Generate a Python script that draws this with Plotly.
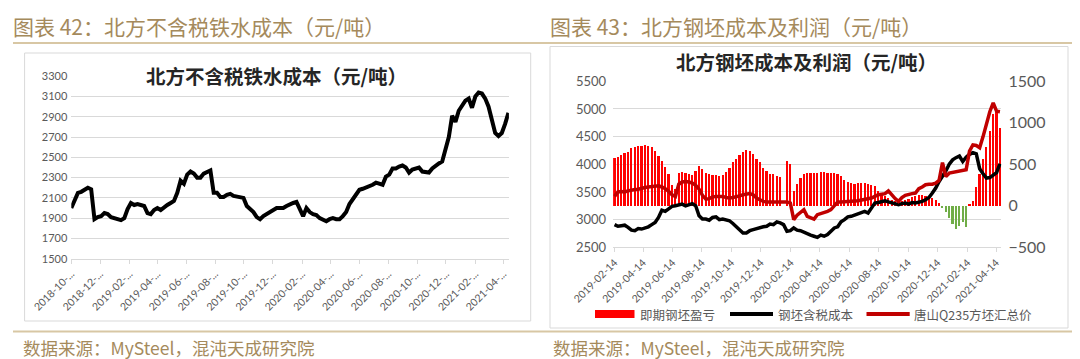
import plotly.graph_objects as go
import pandas as pd

# ---------------- data: left chart (weekly) ----------------
iron_start = "2018-10-08"
iron_cost = [
    2000, 2070, 2150, 2160, 2185, 2200, 2185, 1890, 1910, 1920,
    1950, 1940, 1910, 1900, 1880, 1880, 1900, 1990, 2050, 2030,
    2040, 2030, 2020, 1950, 1940, 1980, 2000, 1980, 2010, 2030,
    2050, 2070, 2150, 2270, 2240, 2330, 2360, 2340, 2300, 2300,
    2340, 2360, 2370, 2150, 2150, 2110, 2110, 2130, 2140, 2120,
    2110, 2110, 2100, 2020, 1990, 1960, 1910, 1890, 1920, 1940,
    1960, 1980, 2000, 2000, 2000, 2020, 2040, 2050, 2060, 1980,
    1920, 2000, 1960, 1940, 1930, 1900, 1880, 1870, 1890, 1900,
    1890, 1890, 1920, 1960, 2040, 2090, 2140, 2180, 2190, 2200,
    2210, 2230, 2250, 2240, 2230, 2310, 2330, 2390, 2390, 2410,
    2420, 2400, 2350, 2380, 2390, 2400, 2360, 2350, 2350, 2390,
    2420, 2440, 2460, 2600, 2700, 2910, 2850, 2960, 3020, 3060,
    3080, 2990, 3100, 3140, 3130, 3080, 3000, 2880, 2740, 2710,
    2740, 2830, 2940,
]
iron_tick_months = 16

# ---------------- data: right chart (weekly) ----------------
steel_start = "2019-02-14"
billet_profit = [
    574, 590, 614, 630, 640, 690, 700, 715, 720, 725,
    715, 700, 660, 600, 540, 460, 380, 250, 200, 390,
    400, 390, 380, 370, 420, 470, 440, 390, 380, 370,
    365, 360, 370, 400, 450, 520, 560, 610, 650, 665,
    655, 620, 560, 520, 450, 410, 380, 375, 360, 340,
    0, 540, 500, 180, 260, 330, 380, 390, 395, 390,
    395, 400, 400, 395, 390, 390, 375, 350, 310, 280,
    270, 265, 270, 275, 270, 265, 250, 230, 170, 140,
    110, 90, 70, 60, 55, 60, 70, 80, 100, 120,
    130, 130, 120, 100, 90, 70, 30, -30, -80, -150,
    -220, -280, -250, -200, -260, 10, 60, 220, 380, 560,
    700, 900, 1100, 1150, 930,
]
billet_cost = [
    2910, 2880, 2890, 2900, 2860, 2810, 2800, 2840, 2830, 2850,
    2870, 2910, 2950, 3040, 3170, 3150, 3200, 3240, 3250, 3260,
    3280, 3250, 3270, 3290, 3250, 3070, 3010, 3010, 2990, 3040,
    3050, 3000, 3010, 3000, 2980, 2930, 2870, 2810, 2760, 2760,
    2800, 2820, 2840, 2860, 2870, 2880, 2920, 2910, 2960, 2940,
    2910, 2790, 2800, 2850, 2810, 2800, 2770, 2750, 2720, 2700,
    2680, 2720, 2700, 2730, 2780, 2850, 2870, 2960, 3000, 3050,
    3060, 3080, 3100, 3130, 3150, 3120, 3200, 3300, 3310, 3320,
    3340, 3320, 3300, 3280, 3270, 3290, 3300, 3280, 3310, 3300,
    3310, 3330, 3360, 3400, 3480, 3570, 3690, 3780, 3880, 4000,
    4080, 4120, 4150, 4050, 4130, 4180, 4210, 4190, 3920, 3830,
    3750, 3760, 3800, 3850, 4010,
]
billet_price = [
    3420, 3500, 3510, 3500, 3520, 3540, 3545, 3550, 3570, 3580,
    3590, 3600, 3600, 3610, 3590, 3560, 3510, 3450, 3420, 3640,
    3680, 3690, 3680, 3660, 3620, 3550, 3440, 3370, 3380, 3410,
    3420, 3425, 3420, 3400, 3390, 3400, 3410, 3430, 3450, 3460,
    3470, 3450, 3390, 3360, 3330, 3320, 3320, 3320, 3320, 3320,
    3320, 3320, 3300, 3000, 3080, 3130, 3180, 3060, 3040, 3010,
    3090, 3110, 3120, 3150, 3180, 3260, 3320, 3320, 3320, 3330,
    3330, 3335, 3340, 3350, 3360, 3370, 3390, 3420, 3450, 3460,
    3470, 3520, 3440, 3380, 3330, 3400, 3440, 3460, 3470, 3480,
    3560, 3590, 3630, 3640, 3640, 3660, 3710, 4030, 3780, 3840,
    3850, 3860, 3870, 3880, 3900, 4240, 4350, 4340, 4300, 4500,
    4720, 4950, 5110, 4960, 4950,
]
steel_tick_count = 14

legend_names = ["即期钢坯盈亏", "钢坯含税成本", "唐山Q235方坯汇总价"]
header_left = "图表 42：北方不含税铁水成本（元/吨）"
header_right = "图表 43：北方钢坯成本及利润（元/吨）"
title_left = "北方不含税铁水成本（元/吨）"
title_right = "北方钢坯成本及利润（元/吨）"
source_text = "数据来源：MySteel，混沌天成研究院"

# ---------------- derived ----------------
W, H = 1080, 359
def px(x):
    return x / W
def py(y):
    return 1 - y / H

iron_dates = pd.date_range(iron_start, periods=len(iron_cost), freq="7D")
iron_ticks = [pd.Timestamp(iron_start) + pd.DateOffset(months=2 * k) for k in range(iron_tick_months)]
iron_ticktext = [d.strftime("%Y-%m") + "-..." for d in iron_ticks]

steel_dates = pd.date_range(steel_start, periods=len(billet_profit), freq="7D")
steel_ticks = [pd.Timestamp(steel_start) + pd.DateOffset(months=2 * k) for k in range(steel_tick_count)]
steel_ticktext = [d.strftime("%Y-%m-%d") for d in steel_ticks]

GRID = "#d9d9d9"
TICK = "#595959"
GOLD = "#a58a5c"
LINEGOLD = "#d8c7a4"
CJK = "Noto Sans CJK SC"
LAT = "Lato, Noto Sans CJK SC"

fig = go.Figure()

# left chart line
fig.add_trace(go.Scatter(
    x=iron_dates, y=iron_cost, mode="lines",
    line=dict(color="black", width=4), xaxis="x", yaxis="y",
    showlegend=False, hoverinfo="skip"))

# right chart: bars on y2 (right side), lines on y3 (left side, overlay)
bar_colors = ["#ff0000" if v >= 0 else "#70ad47" for v in billet_profit]
fig.add_trace(go.Bar(
    x=steel_dates, y=billet_profit, marker=dict(color=bar_colors, line=dict(width=0)),
    width=4.6 * 86400000, xaxis="x2", yaxis="y2", showlegend=False,
    name=legend_names[0]))
fig.add_trace(go.Scatter(
    x=steel_dates, y=billet_cost, mode="lines",
    line=dict(color="black", width=3.5), xaxis="x2", yaxis="y3",
    showlegend=False, name=legend_names[1]))
fig.add_trace(go.Scatter(
    x=steel_dates, y=billet_price, mode="lines",
    line=dict(color="#c00000", width=3.5), xaxis="x2", yaxis="y3",
    showlegend=False, name=legend_names[2]))

xcommon = dict(type="date", showgrid=False, showline=True, linecolor=GRID,
               ticks="outside", ticklen=4, tickcolor=GRID, tickangle=-45,
               zeroline=False, automargin=False)

fig.update_layout(
    width=W, height=H, autosize=False,
    margin=dict(l=0, r=0, t=0, b=0, pad=0),
    paper_bgcolor="white", plot_bgcolor="white",
    bargap=0,
    xaxis=dict(domain=[px(63.3), px(500.9)], anchor="y",
               range=[iron_dates[0], iron_dates[-1] + pd.Timedelta(days=1)],
               tickvals=iron_ticks, ticktext=iron_ticktext,
               tickfont=dict(family=LAT, size=10.5, color=TICK), **xcommon),
    yaxis=dict(domain=[py(250.7), py(68.3)], anchor="x", range=[1500, 3300],
               tick0=1500, dtick=200, showgrid=True, gridcolor=GRID, gridwidth=1,
               zeroline=False, showline=False, ticks="", automargin=False,
               ticklabelstandoff=3,
               tickfont=dict(family=LAT, size=11, color=TICK)),
    xaxis2=dict(domain=[px(605.1), px(993.4)], anchor="y2",
                range=[steel_dates[0] - pd.Timedelta(days=3), steel_dates[-1] + pd.Timedelta(days=3)],
                tickvals=steel_ticks, ticktext=steel_ticktext,
                tickfont=dict(family=LAT, size=10.5, color=TICK), **xcommon),
    yaxis2=dict(domain=[py(239.3), py(73.3)], anchor="x2", side="right",
                range=[-500, 1500], tick0=-500, dtick=500, showgrid=False,
                zeroline=False, showline=False, ticks="", automargin=False,
                ticklabelstandoff=6,
                tickfont=dict(family=LAT, size=16, color=TICK)),
    yaxis3=dict(overlaying="y2", anchor="x2", side="left",
                range=[2500, 5500], tick0=2500, dtick=500, showgrid=True,
                gridcolor=GRID, gridwidth=1, zeroline=False, showline=False, ticks="",
                automargin=False, ticklabelstandoff=6,
                tickfont=dict(family=LAT, size=13, color=TICK)),
)

shapes = []
# frames of the two charts
shapes.append(dict(type="rect", xref="paper", yref="paper",
                   x0=px(16.6), x1=px(522.7), y0=py(313), y1=py(45),
                   line=dict(color=GRID, width=1), layer="below"))
shapes.append(dict(type="rect", xref="paper", yref="paper",
                   x0=px(542), x1=px(1060), y0=py(320), y1=py(38.5),
                   line=dict(color=GRID, width=1), layer="below"))
# header and footer rules
shapes.append(dict(type="line", xref="paper", yref="paper",
                   x0=px(5), x1=px(1072), y0=py(35), y1=py(35),
                   line=dict(color=LINEGOLD, width=2)))
shapes.append(dict(type="line", xref="paper", yref="paper",
                   x0=px(5), x1=px(1072), y0=py(323.5), y1=py(323.5),
                   line=dict(color=LINEGOLD, width=2)))
# legend glyphs (right chart)
shapes.append(dict(type="rect", xref="paper", yref="paper",
                   x0=px(587), x1=px(626.5), y0=py(310), y1=py(302),
                   fillcolor="#ff0000", line=dict(width=0)))
shapes.append(dict(type="line", xref="paper", yref="paper",
                   x0=px(722), x1=px(765), y0=py(306), y1=py(306),
                   line=dict(color="black", width=4)))
shapes.append(dict(type="line", xref="paper", yref="paper",
                   x0=px(858.5), x1=px(901.7), y0=py(306), y1=py(306),
                   line=dict(color="#c00000", width=4)))

annotations = []
def ann(text, x, y, size, color, family=CJK, xanchor="left"):
    annotations.append(dict(text=text, x=px(x), y=py(y), xref="paper", yref="paper",
                            xanchor=xanchor, yanchor="middle", showarrow=False,
                            borderpad=0,
                            font=dict(family=family, size=size, color=color)))

ann(header_left, 4, 18, 21, GOLD)
ann(header_right, 541, 18, 21, GOLD)
ann("<b>" + title_left + "</b>", 268, 67, 19.5, "#262626", xanchor="center")
ann("<b>" + title_right + "</b>", 798, 54, 19.5, "#262626", xanchor="center")
ann(source_text, 14, 339, 17.5, GOLD)
ann(source_text, 544, 339, 17.5, GOLD)
ann(legend_names[0], 631, 306, 12.5, TICK)
ann(legend_names[1], 768.5, 306, 12.5, TICK)
ann(legend_names[2], 905, 306, 12.5, TICK)

fig.update_layout(shapes=shapes, annotations=annotations)
fig.write_html("out.html")
